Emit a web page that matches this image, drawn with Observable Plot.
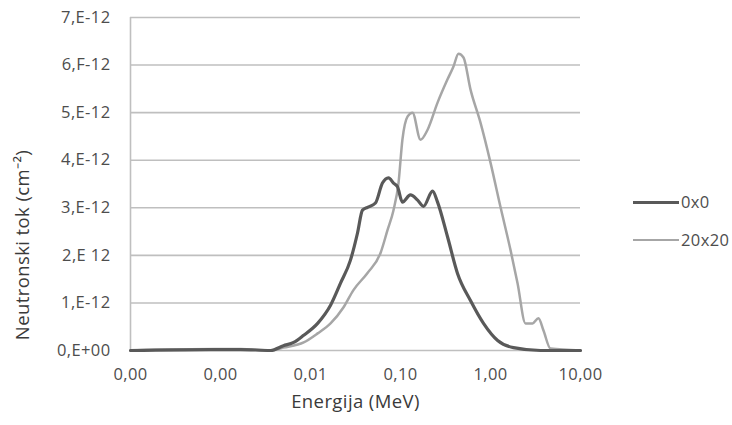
<!DOCTYPE html>
<html>
<head>
<meta charset="utf-8">
<script src="https://cdn.jsdelivr.net/npm/d3@7"></script>
<script src="https://cdn.jsdelivr.net/npm/@observablehq/plot@0.6"></script>
<style>
  body { margin: 0; background: #fff; font-family: "Open Sans", sans-serif; }
  #wrap { position: relative; width: 732px; height: 425px; }
  .leg { position: absolute; left: 633px; font-size: 16.5px; line-height: 20px; color: #4d4d4d; display: flex; align-items: center; letter-spacing: 0.4px; }
  .leg span.sw { display: inline-block; width: 46px; margin-right: 2px; }
</style>
</head>
<body>
<div id="wrap"></div>
<script>
// Energy (MeV) and flux values
const energy0x0 = [0.0001, 0.00077, 0.00167, 0.0036, 0.005, 0.0065, 0.0084, 0.012, 0.0167, 0.0215, 0.0278, 0.0333, 0.0378, 0.043, 0.0527, 0.063, 0.0736, 0.0836, 0.0926, 0.105, 0.129, 0.155, 0.18, 0.227, 0.258, 0.333, 0.43, 0.599, 0.836, 1.2, 1.8, 3.59, 10];
const flux0x0   = [0, 0.02e-12, 0.02e-12, 0, 0.1e-12, 0.17e-12, 0.32e-12, 0.57e-12, 0.95e-12, 1.41e-12, 1.9e-12, 2.47e-12, 2.95e-12, 3.01e-12, 3.1e-12, 3.52e-12, 3.63e-12, 3.52e-12, 3.44e-12, 3.12e-12, 3.27e-12, 3.16e-12, 3.03e-12, 3.35e-12, 3.12e-12, 2.39e-12, 1.62e-12, 1.05e-12, 0.57e-12, 0.21e-12, 0.06e-12, 0, 0];

const energy20x20 = [0.0001, 0.00088, 0.00167, 0.0036, 0.005, 0.0084, 0.012, 0.0167, 0.0233, 0.03, 0.043, 0.06, 0.0717, 0.0836, 0.095, 0.105, 0.12, 0.136, 0.167, 0.2, 0.258, 0.333, 0.388, 0.441, 0.501, 0.599, 0.774, 1.0, 1.29, 1.67, 2.0, 2.45, 2.93, 3.41, 3.88, 4.64, 10];
const flux20x20   = [0, 0.03e-12, 0.03e-12, 0, 0.06e-12, 0.17e-12, 0.36e-12, 0.57e-12, 0.91e-12, 1.27e-12, 1.63e-12, 2.05e-12, 2.53e-12, 2.95e-12, 3.52e-12, 4.43e-12, 4.92e-12, 5.0e-12, 4.43e-12, 4.64e-12, 5.21e-12, 5.7e-12, 5.97e-12, 6.24e-12, 6.16e-12, 5.49e-12, 4.79e-12, 3.95e-12, 3.02e-12, 2.11e-12, 1.41e-12, 0.57e-12, 0.57e-12, 0.68e-12, 0.42e-12, 0.04e-12, 0];

const seriesNames = ["0x0", "20x20"];
const seriesColors = ["#595959", "#a6a6a6"];
const seriesWidths = [3.2, 2.5];

const xTicks = [0.0001, 0.001, 0.01, 0.1, 1, 10];
const xTickLabels = ["0,00", "0,00", "0,01", "0,10", "1,00", "10,00"];
const yTicks = [0, 1e-12, 2e-12, 3e-12, 4e-12, 5e-12, 6e-12, 7e-12];
const yTickLabels = ["0,E+00", "1,E-12", "2,E 12", "3,E-12", "4,E-12", "5,E-12", "6,F-12", "7,E-12"];

const xTitle = "Energija (MeV)";
const yTitle = "Neutronski tok (cm⁻²)";

const rows = [
  ...energy0x0.map((e, i) => ({series: seriesNames[0], e, f: flux0x0[i]})),
  ...energy20x20.map((e, i) => ({series: seriesNames[1], e, f: flux20x20[i]}))
];
const xTickRows = xTicks.map((v, i) => ({v, label: xTickLabels[i]}));

const chart = Plot.plot({
  width: 732,
  height: 425,
  marginLeft: 130,
  marginRight: 152,
  marginTop: 17,
  marginBottom: 75,
  style: {fontFamily: "Open Sans, sans-serif", fontSize: "16.5px", color: "#4d4d4d", letterSpacing: "0.4px", background: "#fff"},
  x: {type: "log", domain: [0.0001, 10], axis: null},
  y: {domain: [0, 7e-12], axis: null},
  marks: [
    Plot.gridY(yTicks, {stroke: "#bfbfbf", strokeOpacity: 1, strokeWidth: 1.6}),
    Plot.ruleX([0.0001], {stroke: "#bfbfbf", strokeWidth: 1.6}),
    Plot.axisY({ticks: yTicks, tickSize: 0, tickPadding: 20, tickFormat: (d, i) => yTickLabels[i], label: null, fontSize: 16.5}),
    Plot.text(xTickRows, {x: "v", frameAnchor: "bottom", dy: 29, text: "label", fill: "#4d4d4d", fontSize: 16.5}),
    Plot.line(rows.filter(d => d.series === seriesNames[1]), {x: "e", y: "f", stroke: seriesColors[1], strokeWidth: seriesWidths[1], curve: "monotone-x"}),
    Plot.line(rows.filter(d => d.series === seriesNames[0]), {x: "e", y: "f", stroke: seriesColors[0], strokeWidth: seriesWidths[0], curve: "monotone-x"}),
    Plot.text([xTitle], {frameAnchor: "bottom", dy: 57, text: d => d, fill: "#3a3a3a", fontSize: 18.5}),
    Plot.text([yTitle], {frameAnchor: "left", textAnchor: "middle", rotate: -90, dx: -107, dy: 61, text: d => d, fill: "#3a3a3a", fontSize: 18.5})
  ]
});

const wrap = document.getElementById("wrap");
wrap.appendChild(chart);

const legendTops = [192, 230];
seriesNames.forEach((name, i) => {
  const div = document.createElement("div");
  div.className = "leg";
  div.style.top = legendTops[i] + "px";
  div.innerHTML = `<span class="sw" style="border-top:${seriesWidths[i]}px solid ${seriesColors[i]}"></span><span>${name}</span>`;
  wrap.appendChild(div);
});
</script>
</body>
</html>
